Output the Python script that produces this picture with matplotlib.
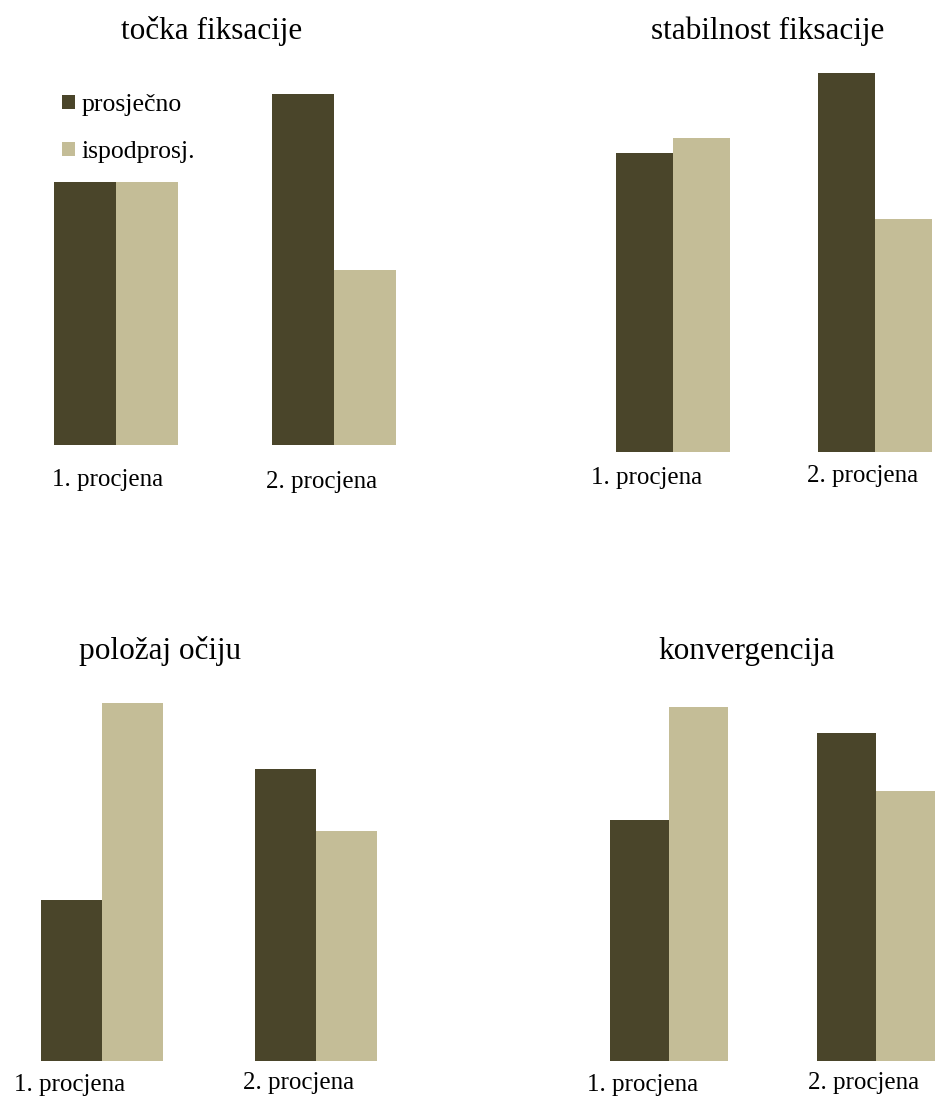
import matplotlib
matplotlib.use("Agg")
import matplotlib.pyplot as plt
import numpy as np

plt.rcParams['font.family'] = ['Liberation Serif', 'DejaVu Serif']

# data
titles = ["točka fiksacije", "stabilnost fiksacije", "položaj očiju", "konvergencija"]
groups = ["1. procjena", "2. procjena"]
series = ["prosječno", "ispodprosj."]
prosjecno = [[36, 48], [41, 52], [22, 40], [33, 45]]
ispodprosj = [[36, 24], [43, 32], [49, 31.5], [48.5, 37]]

DARK = "#4A452A"
LIGHT = "#C4BD97"
W, H = 935, 1099

# layout per panel in pixels: axes left/right, baseline, title centre, tick label centres
layout = [
    dict(L=7, R=443, base=444.7, title=(212, 31), ticks=[(108, 480), (322, 482)]),
    dict(L=572, R=976, base=452.3, title=(768, 31), ticks=[(647, 478), (863, 476)]),
    dict(L=-5, R=423, base=1061, title=(160, 651), ticks=[(70, 1085), (299, 1083)]),
    dict(L=565.5, R=979.5, base=1061, title=(747, 651), ticks=[(643, 1085), (864, 1083)]),
]
px_per_unit = 7.3
ymax = 55
bw = 0.284

fig = plt.figure(figsize=(W / 100, H / 100), dpi=100)
for i, lay in enumerate(layout):
    top = lay['base'] - ymax * px_per_unit
    ax = fig.add_axes([lay['L'] / W, 1 - lay['base'] / H,
                       (lay['R'] - lay['L']) / W, (lay['base'] - top) / H])
    x = np.arange(len(groups))
    ax.bar(x - bw / 2, prosjecno[i], bw, color=DARK, label=series[0])
    ax.bar(x + bw / 2, ispodprosj[i], bw, color=LIGHT, label=series[1])
    ax.set_xlim(-0.5, 1.5)
    ax.set_ylim(0, ymax)
    ax.axis('off')
    fig.text(lay['title'][0] / W, 1 - lay['title'][1] / H, titles[i],
             ha='center', va='center', fontsize=22.5)
    for g, (tx, ty) in zip(groups, lay['ticks']):
        fig.text(tx / W, 1 - ty / H, g, ha='center', va='center', fontsize=18)
    if i == 0:
        ax.legend(loc='upper left', bbox_to_anchor=(62 / W, 1 - 94 / H),
                  bbox_transform=fig.transFigure, frameon=False,
                  fontsize=18.5, handlelength=0.5, handleheight=0.5,
                  handletextpad=0.25, labelspacing=0.98, borderpad=0,
                  borderaxespad=0)

fig.savefig("out.png", dpi=100)
